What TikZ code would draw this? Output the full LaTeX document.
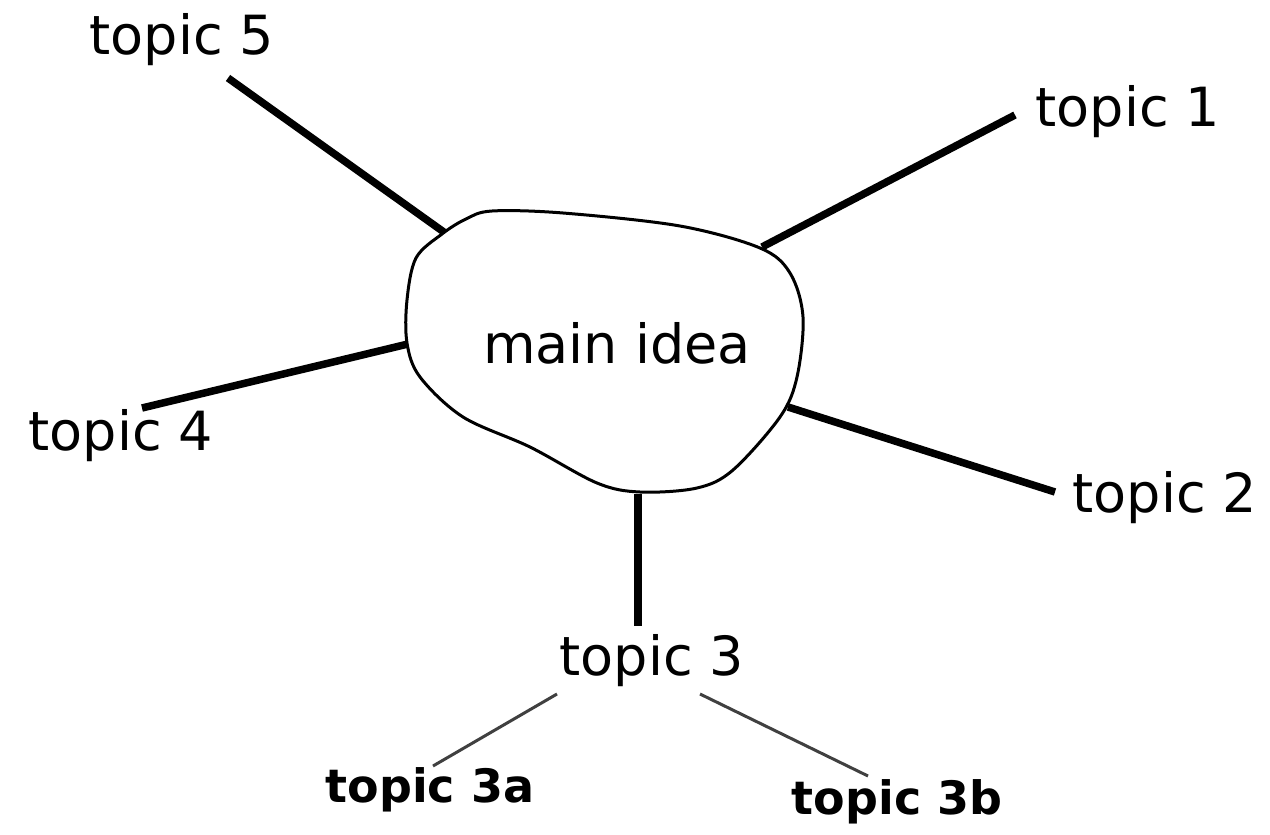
\documentclass[tikz,border=0pt]{standalone}
\usepackage{fontspec}
\setmainfont{DejaVu Sans}
\begin{document}
\begin{tikzpicture}[x=1pt,y=-1pt,
  topic/.style={inner sep=0pt,font=\fontsize{54}{60}\selectfont},
  subtopic/.style={inner sep=0pt,font=\fontsize{46}{52}\selectfont\bfseries},
  mainline/.style={line width=7.5pt,black},
  subline/.style={line width=3pt,black!75},
  blob/.style={line width=3pt,black,fill=white}]
\useasboundingbox[fill=white] (0,0) rectangle (1270,835);
% connector ends
\coordinate (b5) at (448,235);
\coordinate (e5) at (228,78);
\coordinate (b4) at (408,344);
\coordinate (e4) at (142,408);
\coordinate (b1) at (762,247);
\coordinate (e1) at (1015,115);
\coordinate (b2) at (788,407);
\coordinate (e2) at (1055,492);
\coordinate (b3) at (638,494);
\coordinate (e3) at (638,626);
\coordinate (s3a) at (557,694);
\coordinate (e3a) at (433,766);
\coordinate (s3b) at (700,694);
\coordinate (e3b) at (868,776);
% connectors
\draw[mainline] (b5) -- (e5);
\draw[mainline] (b4) -- (e4);
\draw[mainline] (b1) -- (e1);
\draw[mainline] (b2) -- (e2);
\draw[mainline] (b3) -- (e3);
\draw[subline] (s3a) -- (e3a);
\draw[subline] (s3b) -- (e3b);
% blob
\draw[blob] plot[smooth cycle,tension=0.55] coordinates {
 (492,211) (563,213) (680,226) (760,248) (790,273) (803,317) (797,377)
 (780,417) (733,470) (697,488) (640,492) (597,483) (530,447) (463,417)
 (420,377) (407,343) (407,300) (416,258) (442,234) (466,219)};
% texts
\node[topic] (main) at (617,343) {main idea};
\node[topic] (t5) at (182,40) {topic 5};
\node[topic] (t1) at (1128,112) {topic 1};
\node[topic] (t4) at (121,436) {topic 4};
\node[topic] (t2) at (1165,498) {topic 2};
\node[topic] (t3) at (652,661) {topic 3};
\node[subtopic] (t3a) at (430,790) {topic 3a};
\node[subtopic] (t3b) at (897,802) {topic 3b};
\end{tikzpicture}
\end{document}
